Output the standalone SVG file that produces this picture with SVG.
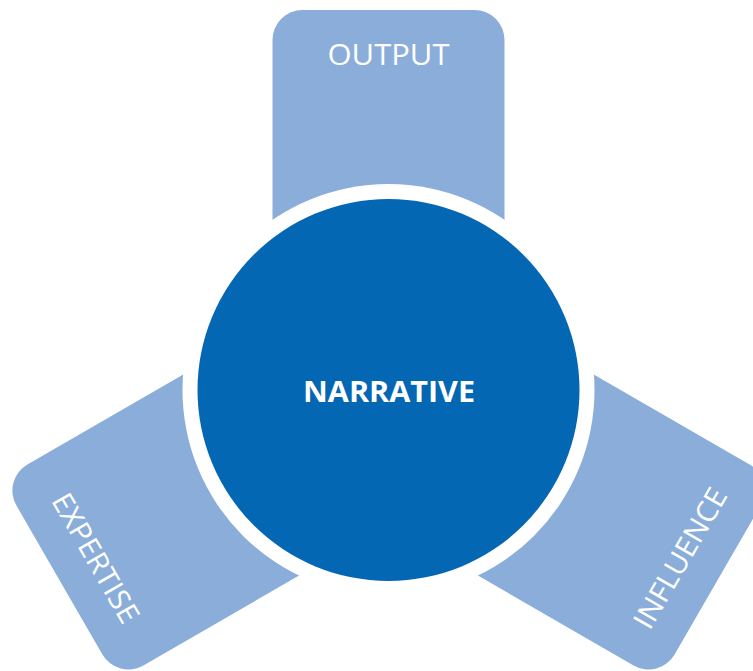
<svg xmlns="http://www.w3.org/2000/svg" width="753" height="671" viewBox="0 0 753 671">
<style>
.arm{fill:#8badda}
.ring{fill:#ffffff}
.core{fill:#0467b3}
.lbl{font-family:"Open Sans","Liberation Sans",sans-serif;font-size:29px;fill:#ffffff;text-anchor:middle}
.main{font-family:"Open Sans","Liberation Sans",sans-serif;font-size:29px;font-weight:700;fill:#ffffff;text-anchor:middle}
</style>
<defs>
<rect id="armShape" x="272.5" y="10" width="232" height="380" rx="30" ry="30"/>
</defs>
<g id="connectors"></g>
<g id="output">
<use href="#armShape" class="arm"/>
<text class="lbl" x="388.5" y="65" textLength="122" lengthAdjust="spacingAndGlyphs">OUTPUT</text>
</g>
<g id="influence">
<use href="#armShape" class="arm" transform="rotate(120 388.5 390)"/>
<text class="lbl" transform="translate(680,558) rotate(-60)" x="0" y="10.5" textLength="157" lengthAdjust="spacingAndGlyphs">INFLUENCE</text>
</g>
<g id="expertise">
<use href="#armShape" class="arm" transform="rotate(-120 388.5 390)"/>
<text class="lbl" transform="translate(96,558) rotate(60)" x="0" y="10.5" textLength="145" lengthAdjust="spacingAndGlyphs">EXPERTISE</text>
</g>
<g id="narrative">
<circle class="ring" cx="388.5" cy="390" r="206"/>
<circle class="core" cx="388.5" cy="390" r="191"/>
<text class="main" x="389" y="402" textLength="172" lengthAdjust="spacingAndGlyphs">NARRATIVE</text>
</g>
</svg>
